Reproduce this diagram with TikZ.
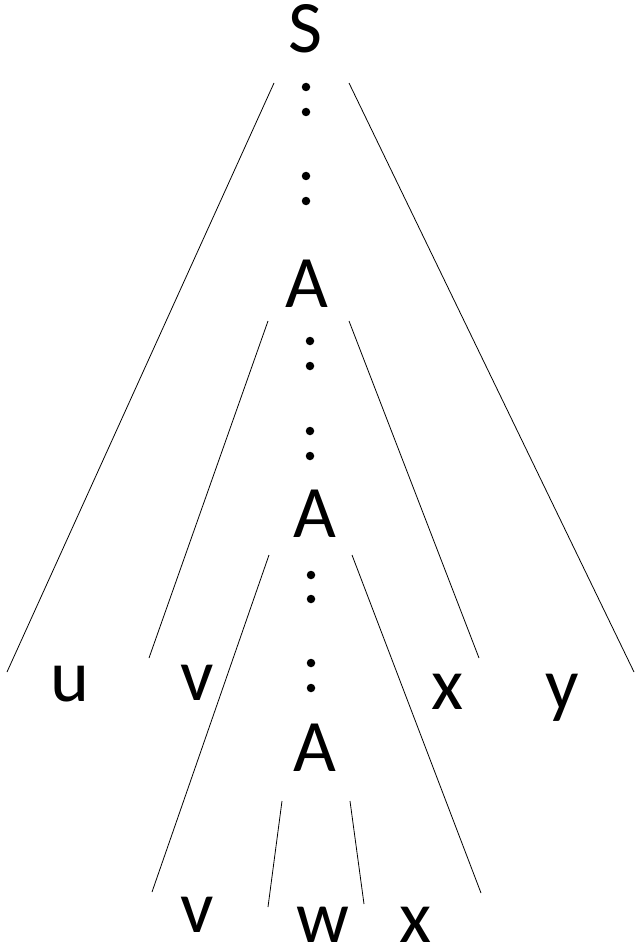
\documentclass[tikz,border=0pt]{standalone}
\usepackage{fontspec}
\setmainfont{Carlito}
\begin{document}
\begin{tikzpicture}[x=1pt,y=-1pt,
  sym/.style={inner sep=0pt,anchor=base,font=\fontsize{74}{80}\selectfont},
  dot/.style={circle,fill=black,inner sep=0pt,minimum size=8.5pt},
  edge/.style={line width=0.8pt}]
\useasboundingbox (0,0) rectangle (641,944);
% labels
\node[sym] (S) at (305,53) {S};
\node[sym] (A1) at (307,307) {A};
\node[sym] (A2) at (315,537) {A};
\node[sym] (A3) at (315,771) {A};
\node[sym] (u) at (70,701) {u};
\node[sym] (v1) at (197,700) {v};
\node[sym] (x1) at (448,709) {x};
\node[sym] (y) at (562,709) {y};
\node[sym] (v2) at (197,932) {v};
\node[sym] (w) at (323,942) {w};
\node[sym] (x2) at (416,942) {x};
% dots
\foreach \n/\yy in {a/87,b/112,c/176,d/201} \node[dot] (dS\n) at (306,\yy) {};
\foreach \n/\yy in {a/341,b/366,c/431,d/456} \node[dot] (dA\n) at (310,\yy) {};
\foreach \n/\yy in {a/575,b/599,c/663,d/688} \node[dot] (dB\n) at (311,\yy) {};
% line ends
\coordinate (p1a) at (274,83);  \coordinate (p1b) at (7,672);
\coordinate (p2a) at (349,83);  \coordinate (p2b) at (634,672);
\coordinate (p3a) at (268,321); \coordinate (p3b) at (149,658);
\coordinate (p4a) at (349,321); \coordinate (p4b) at (479,658);
\coordinate (p5a) at (269,555); \coordinate (p5b) at (152,892);
\coordinate (p6a) at (352,555); \coordinate (p6b) at (481,893);
\coordinate (p7a) at (282,801); \coordinate (p7b) at (268,907);
\coordinate (p8a) at (350,801); \coordinate (p8b) at (364,904);
\foreach \i in {1,...,8} \draw[edge] (p\i a) -- (p\i b);
\end{tikzpicture}
\end{document}
